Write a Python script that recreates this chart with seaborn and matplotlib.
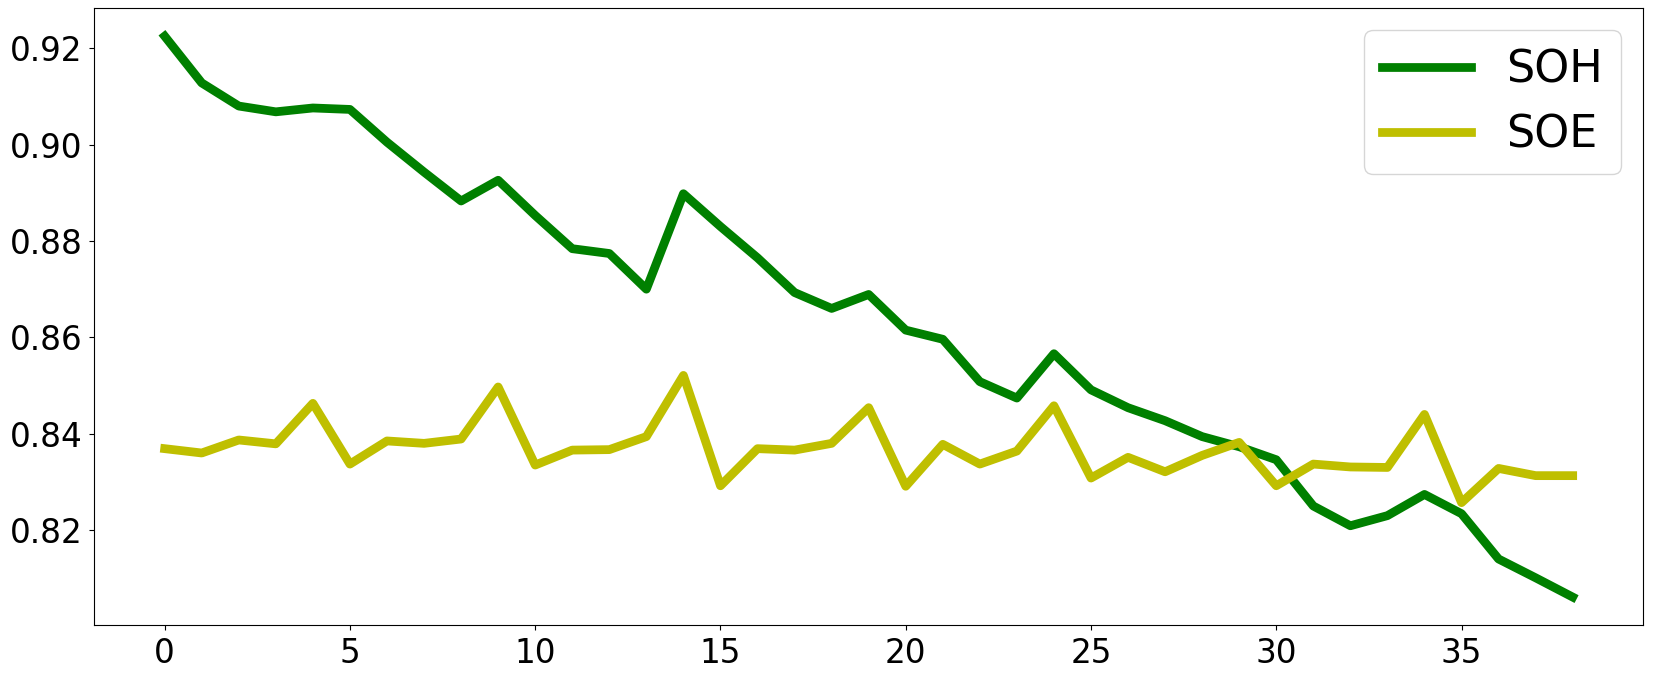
import numpy as np
import pandas as pd
import matplotlib
matplotlib.use('Agg')
import matplotlib.pyplot as plt
import seaborn as sns

# values
cycles = list(range(39))
soh = [0.9225, 0.9128, 0.9080, 0.9068, 0.9076, 0.9073, 0.9005, 0.8943, 0.8883, 0.8926,
       0.8853, 0.8784, 0.8774, 0.8700, 0.8898, 0.8830, 0.8765, 0.8693, 0.8660, 0.8689,
       0.8615, 0.8596, 0.8508, 0.8474, 0.8566, 0.8491, 0.8454, 0.8427, 0.8394, 0.8373,
       0.8346, 0.8250, 0.8209, 0.8230, 0.8274, 0.8234, 0.8140, 0.8101, 0.8061]
soe = [0.8369, 0.8360, 0.8387, 0.8379, 0.8463, 0.8337, 0.8385, 0.8380, 0.8389, 0.8497,
       0.8335, 0.8366, 0.8367, 0.8394, 0.8521, 0.8292, 0.8369, 0.8366, 0.8380, 0.8454,
       0.8291, 0.8378, 0.8337, 0.8364, 0.8458, 0.8308, 0.8351, 0.8321, 0.8355, 0.8382,
       0.8292, 0.8337, 0.8331, 0.8330, 0.8440, 0.8257, 0.8328, 0.8313, 0.8313]
series_names = ['SOH', 'SOE']
series_colors = ['g', 'y']

df = pd.DataFrame({'cycle': cycles, 'SOH': soh, 'SOE': soe})
long_df = df.melt(id_vars='cycle', var_name='series', value_name='value')

fig, ax = plt.subplots(figsize=(16.54, 6.78), dpi=100)
sns.lineplot(data=long_df, x='cycle', y='value', hue='series', hue_order=series_names,
             palette=series_colors, linewidth=6.3, ax=ax)

ax.set_xlabel('')
ax.set_ylabel('')
ax.set_xticks([0, 5, 10, 15, 20, 25, 30, 35])
ax.set_yticks([0.82, 0.84, 0.86, 0.88, 0.90, 0.92])
ax.tick_params(axis='x', labelsize=23.5, pad=5)
ax.tick_params(axis='y', labelsize=23.5, pad=5)
ax.legend(loc='upper right', fontsize=32)

plt.subplots_adjust(left=0.057, right=0.9934, top=0.988, bottom=0.078)
plt.savefig('out.png', dpi=100)
plt.close()
